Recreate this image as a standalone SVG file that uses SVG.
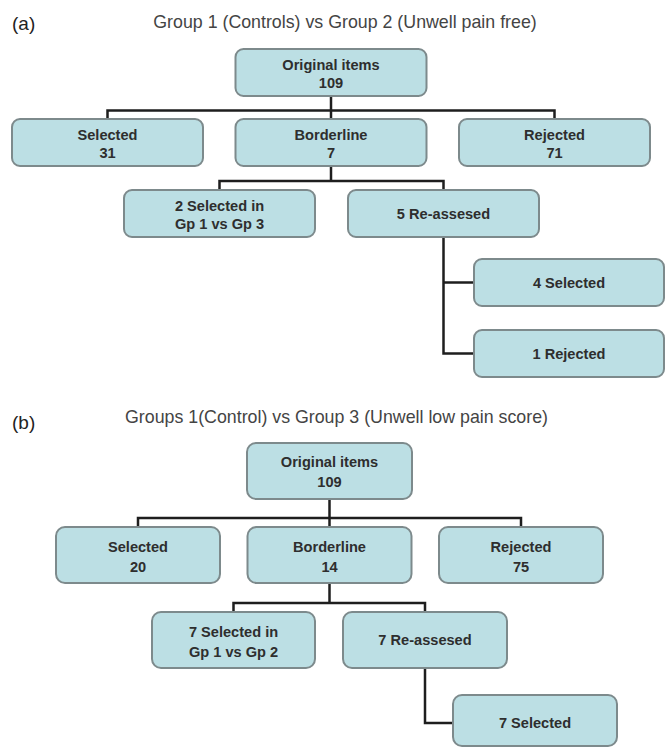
<svg xmlns="http://www.w3.org/2000/svg" width="665" height="747" viewBox="0 0 665 747">
<style>
.bg{fill:#ffffff}
.box{fill:#bcdfe4;stroke:#7d8a8c;stroke-width:2}
.t{font-family:"Liberation Sans",Arial,sans-serif;font-size:14.6px;font-weight:bold;fill:#2e2e2e;text-anchor:middle}
.title{font-family:"Liberation Sans",Arial,sans-serif;font-size:17.8px;fill:#444444;text-anchor:middle}
.lab{font-family:"Liberation Sans",Arial,sans-serif;font-size:19px;fill:#222222}
.ln{fill:none;stroke:#1e1e1e;stroke-width:2.5;stroke-linejoin:miter}
</style>
<rect class="bg" x="0" y="0" width="665" height="747"/>

<g id="panel-a-heading">
<text class="lab" x="12" y="30">(a)</text>
<text class="title" x="345" y="28">Group 1 (Controls) vs Group 2 (Unwell pain free)</text>
</g>

<g id="connectors">
<!-- panel a -->
<polyline class="ln" points="331,96 331,119"/>
<polyline class="ln" points="107.5,119 107.5,110.5 554.5,110.5 554.5,119"/>
<polyline class="ln" points="331,166 331,181"/>
<polyline class="ln" points="219.5,190 219.5,181 443.5,181 443.5,190"/>
<polyline class="ln" points="443.5,237 443.5,353.5 474,353.5"/>
<polyline class="ln" points="443.5,282.5 474,282.5"/>
<!-- panel b -->
<polyline class="ln" points="329.5,499 329.5,527"/>
<polyline class="ln" points="138,527 138,518 521,518 521,527"/>
<polyline class="ln" points="329.5,583 329.5,603"/>
<polyline class="ln" points="233.5,612 233.5,603 425,603 425,612"/>
<polyline class="ln" points="425,668 425,723 453,723"/>
</g>

<g id="a-original">
<rect class="box" x="235.5" y="49" width="191" height="47" rx="8"/>
<text class="t" x="331" y="69.5">Original items</text>
<text class="t" x="331" y="87.5">109</text>
</g>
<g id="a-selected">
<rect class="box" x="12" y="119" width="191" height="47" rx="8"/>
<text class="t" x="107.5" y="139.5">Selected</text>
<text class="t" x="107.5" y="157.5">31</text>
</g>
<g id="a-borderline">
<rect class="box" x="235.5" y="119" width="191" height="47" rx="8"/>
<text class="t" x="331" y="139.5">Borderline</text>
<text class="t" x="331" y="157.5">7</text>
</g>
<g id="a-rejected">
<rect class="box" x="459" y="119" width="191" height="47" rx="8"/>
<text class="t" x="554.5" y="139.5">Rejected</text>
<text class="t" x="554.5" y="157.5">71</text>
</g>
<g id="a-selected-gp3">
<rect class="box" x="124" y="190" width="191" height="47" rx="8"/>
<text class="t" x="219.5" y="210.5">2 Selected in</text>
<text class="t" x="219.5" y="228.5">Gp 1 vs Gp 3</text>
</g>
<g id="a-reassessed">
<rect class="box" x="348" y="190" width="191" height="47" rx="8"/>
<text class="t" x="443.5" y="218.5">5 Re-assesed</text>
</g>
<g id="a-4selected">
<rect class="box" x="474" y="259" width="190" height="47" rx="8"/>
<text class="t" x="569" y="287.5">4 Selected</text>
</g>
<g id="a-1rejected">
<rect class="box" x="474" y="330" width="190" height="47" rx="8"/>
<text class="t" x="569" y="358.5">1 Rejected</text>
</g>

<g id="panel-b-heading">
<text class="lab" x="12" y="429">(b)</text>
<text class="title" x="336.5" y="423">Groups 1(Control) vs Group 3 (Unwell low pain score)</text>
</g>

<g id="b-original">
<rect class="box" x="247" y="443" width="165" height="56" rx="9"/>
<text class="t" x="329.5" y="467">Original items</text>
<text class="t" x="329.5" y="487">109</text>
</g>
<g id="b-selected">
<rect class="box" x="56" y="527" width="164" height="56" rx="9"/>
<text class="t" x="138" y="551.5">Selected</text>
<text class="t" x="138" y="571.5">20</text>
</g>
<g id="b-borderline">
<rect class="box" x="247.5" y="527" width="164" height="56" rx="9"/>
<text class="t" x="329.5" y="551.5">Borderline</text>
<text class="t" x="329.5" y="571.5">14</text>
</g>
<g id="b-rejected">
<rect class="box" x="439" y="527" width="164" height="56" rx="9"/>
<text class="t" x="521" y="551.5">Rejected</text>
<text class="t" x="521" y="571.5">75</text>
</g>
<g id="b-selected-gp2">
<rect class="box" x="152" y="612" width="163" height="56" rx="9"/>
<text class="t" x="233.5" y="636.5">7 Selected in</text>
<text class="t" x="233.5" y="656.5">Gp 1 vs Gp 2</text>
</g>
<g id="b-reassessed">
<rect class="box" x="343" y="612" width="164" height="56" rx="9"/>
<text class="t" x="425" y="645">7 Re-assesed</text>
</g>
<g id="b-7selected">
<rect class="box" x="453" y="695" width="164" height="51" rx="9"/>
<text class="t" x="535" y="728">7 Selected</text>
</g>
</svg>
